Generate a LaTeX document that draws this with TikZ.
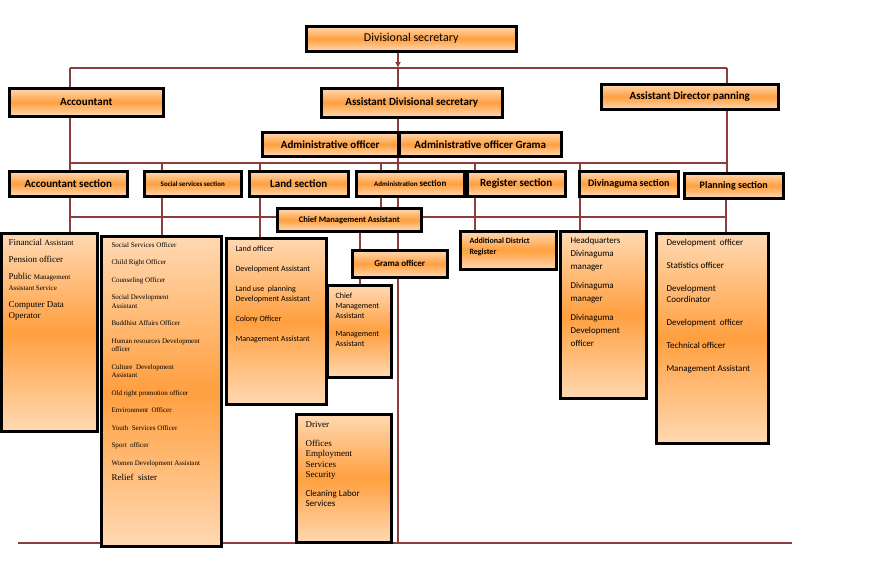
\documentclass[tikz,border=0pt]{standalone}
\usepackage{fontspec}
\setmainfont{Carlito}
\newfontfamily\serifone{Liberation Serif}
\usetikzlibrary{arrows.meta, positioning, backgrounds}
\definecolor{linkred}{RGB}{140,62,62}
\tikzset{
  box/.style={draw=black, line width=2.5pt, top color=orange!30, bottom color=orange!30,
    middle color=orange!75, inner sep=0pt, anchor=north west},
  head/.style={font=\bfseries\fontsize{11}{13}\selectfont},
  small/.style={font=\fontsize{8}{10}\selectfont, align=left, anchor=north west},
  link/.style={draw=linkred, line width=2.6pt}
}
\begin{document}
\begin{tikzpicture}[x=1pt, y=-1pt]
				\useasboundingbox (0,0) rectangle (888,568);

				% top levels
				\node[box, minimum width=210pt, minimum height=25pt] (ds) at (305,25) {};
				\node at (ds.center) {\fontsize{12}{14}\selectfont Divisional secretary};
				\node[box, minimum width=154pt, minimum height=28pt] (acc) at (8,87) {};
				\node[head] at (acc.center) {Accountant};
				\node[box, minimum width=181pt, minimum height=29pt] (ads) at (320,87) {};
				\node[head] at (ads.center) {Assistant Divisional secretary};
				\node[box, minimum width=177pt, minimum height=25pt] (adp) at (600,83) {};
				\node[head] at (adp.center) {Assistant Director panning};
				\node[box, minimum width=136pt, minimum height=24pt] (ao) at (261,131) {};
				\node[head] at (ao.center) {Administrative officer};
				\node[box, minimum width=162pt, minimum height=24pt] (aog) at (398,131) {};
				\node[head] at (aog.center) {Administrative officer Grama};

				% sections
				\node[box, minimum width=118pt, minimum height=25pt] (sacc) at (8,170) {};
				\node[head] at (sacc.center) {Accountant section};
				\node[box, minimum width=97pt, minimum height=25pt] (ssoc) at (143,170) {};
				\node[font=\bfseries\fontsize{7}{9}\selectfont] at (ssoc.center) {Social services section};
				\node[box, minimum width=99pt, minimum height=25pt] (sland) at (248,170) {};
				\node[head] at (sland.center) {Land section};
				\node[box, minimum width=108pt, minimum height=25pt] (sadm) at (355,170) {};
				\node[font=\bfseries\fontsize{9}{11}\selectfont] at (sadm.center) {{\fontsize{7}{9}\selectfont Administration} section};
				\node[box, minimum width=98pt, minimum height=25pt] (sreg) at (466,170) {};
				\node[head] at (sreg.center) {Register section};
				\node[box, minimum width=99pt, minimum height=25pt] (sdiv) at (578,170) {};
				\node[font=\bfseries\fontsize{10}{12}\selectfont] at (sdiv.center) {Divinaguma section};
				\node[box, minimum width=99pt, minimum height=25pt] (spl) at (683,172) {};
				\node[font=\bfseries\fontsize{10}{12}\selectfont] at (spl.center) {Planning section};

				\node[box, minimum width=144pt, minimum height=23pt] (cma) at (276,207) {};
				\node[font=\bfseries\fontsize{8.5}{10}\selectfont] at (cma.center) {Chief Management Assistant};

				% staff boxes
				\node[box, minimum width=96pt, minimum height=198pt] (fin) at (0,232) {};
				\node[small, font=\serifone\fontsize{9}{11}\selectfont] at ([shift={(5,4)}]fin.north west)
				  {Financial {\footnotesize Assistant}\\[6pt]Pension officer\\[6pt]Public {\scriptsize Management}\\{\scriptsize Assistant Service}\\[6pt]Computer Data\\Operator};
				\node[box, minimum width=120pt, minimum height=310pt] (soc) at (100,235) {};
				\node[small, font=\serifone\fontsize{7}{8.5}\selectfont] at ([shift={(8,4)}]soc.north west)
				  {Social Services Officer\\[9pt]Child Right Officer\\[9pt]Counseling Officer\\[9pt]Social Development\\Assistant\\[9pt]Buddhist Affairs Officer\\[9pt]Human resources Development\\officer\\[9pt]Culture \ Development\\Assistant\\[9pt]Old right promotion officer\\[9pt]Environment \ Officer\\[9pt]Youth \ Services Officer\\[9pt]Sport \ officer\\[9pt]Women Development Assistant\\[7pt]{\fontsize{9}{11}\selectfont Relief \ sister}};
				\node[box, minimum width=100pt, minimum height=166pt] (land) at (225,237) {};
				\node[small] at ([shift={(7,5)}]land.north west)
				  {Land officer\\[10pt]Development Assistant\\[10pt]Land use \ planning\\Development Assistant\\[10pt]Colony Officer\\[10pt]Management Assistant};
				\node[box, minimum width=64pt, minimum height=92pt] (chief) at (326,284) {};
				\node[small] at ([shift={(6,5)}]chief.north west)
				  {Chief\\Management\\Assistant\\[8pt]Management\\Assistant};
				\node[box, minimum width=95pt, minimum height=27pt] (grama) at (351,249) {};
				\node[font=\bfseries\fontsize{9}{11}\selectfont] at (grama.center) {Grama officer};
				\node[box, minimum width=95pt, minimum height=128pt] (drv) at (295,413) {};
				\node[small, font=\serifone\fontsize{9}{10.5}\selectfont] at ([shift={(7,5)}]drv.north west)
				  {Driver\\[8pt]Offices\\Employment\\Services\\Security\\[8pt]{\fontspec{Carlito}Cleaning Labor}\\{\fontspec{Carlito}Services}};
				\node[box, minimum width=96pt, minimum height=38pt] (adr) at (459,230) {};
				\node[small, font=\bfseries\fontsize{8}{11}\selectfont] at ([shift={(7,4)}]adr.north west)
				  {Additional District\\Register};
				\node[box, minimum width=86pt, minimum height=167pt] (hq) at (559,230) {};
				\node[small, font=\fontsize{9}{13}\selectfont] at ([shift={(8,4)}]hq.north west)
				  {Headquarters\\Divinaguma\\manager\\[6pt]Divinaguma\\manager\\[6pt]Divinaguma\\Development\\officer};
				\node[box, minimum width=112pt, minimum height=210pt] (dev) at (655,232) {};
				\node[small, font=\fontsize{9}{11}\selectfont] at ([shift={(8,4)}]dev.north west)
				  {Development \ officer\\[12pt]Statistics officer\\[12pt]Development\\Coordinator\\[12pt]Development \ officer\\[12pt]Technical officer\\[12pt]Management Assistant};

				% connectors
				\coordinate (top) at (398,68);
				\coordinate (bus1) at (398,163);
				\coordinate (bus2) at (398,217);
				\coordinate (foot) at (398,543);
				\begin{scope}[on background layer]
				\draw[link, -{Latex[length=6pt,width=6pt]}] (ds.south -| top) -- (top);
				\draw[link] (top) -- (foot);
				\draw[link] (70,68) -- (727,68);
				\draw[link] (70,68) -- (acc.north -| 70,0);
				\draw[link] (727,68) -- (adp.north -| 727,0);
				\draw[link] (70,163) -- (727,163);
				\draw[link] (acc.south -| 70,0) -- (sacc.north -| 70,0);
				\draw[link] (adp.south -| 727,0) -- (spl.north -| 727,0);
				\foreach \xx in {162,260,381,475,580}
					\draw[link] (\xx,163) -- (\xx,172);
				\draw[link] (70,217) -- (727,217);
				\draw[link] (sacc.south -| 70,0) -- (fin.north -| 70,0);
				\draw[link] (ssoc.south -| 162,0) -- (soc.north -| 162,0);
				\draw[link] (sland.south -| 260,0) -- (land.north -| 260,0);
				\draw[link] (sadm.south -| 381,0) -- (cma.north -| 381,0);
				\draw[link] (sreg.south -| 475,0) -- (adr.north -| 475,0);
				\draw[link] (sdiv.south -| 580,0) -- (hq.north -| 580,0);
				\draw[link] (spl.south -| 726,0) -- (dev.north -| 726,0);
				\draw[link] (cma.south -| 360,0) -- (chief.north -| 360,0);
				\draw[link] (18,543) -- (792,543);
				\end{scope}
			\end{tikzpicture}
\end{document}
